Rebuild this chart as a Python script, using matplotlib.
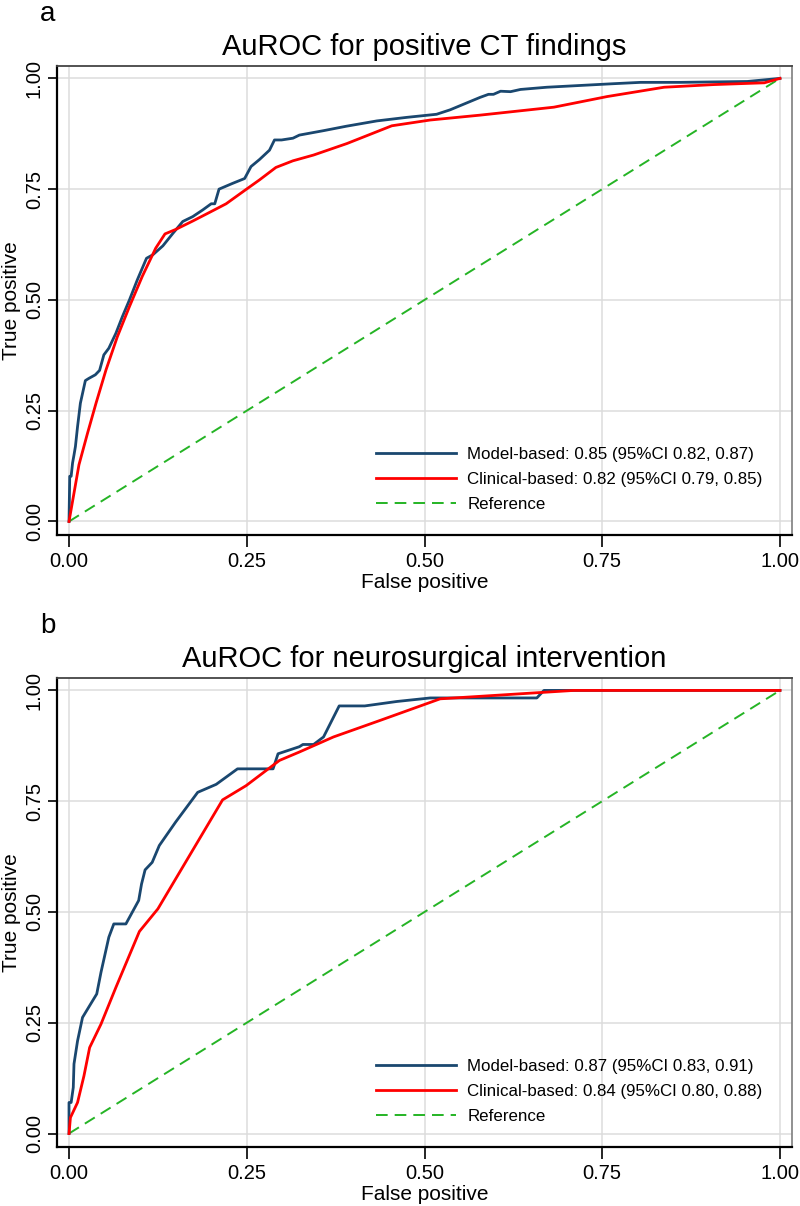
import matplotlib
matplotlib.use('Agg')
import matplotlib.pyplot as plt

plt.rcParams['font.family'] = ['Liberation Sans', 'DejaVu Sans']

# panel a: positive CT findings
fpr_model_a = [0, 0.001, 0.003, 0.005, 0.007, 0.009, 0.012, 0.016, 0.023, 0.028,
               0.037, 0.043, 0.049, 0.056, 0.066, 0.075, 0.085, 0.096, 0.109, 0.118,
               0.132, 0.146, 0.160, 0.174, 0.188, 0.200, 0.205, 0.211, 0.230, 0.247,
               0.256, 0.268, 0.282, 0.289, 0.299, 0.315, 0.324, 0.358, 0.390, 0.433,
               0.475, 0.517, 0.536, 0.560, 0.578, 0.590, 0.597, 0.607, 0.621, 0.635,
               0.672, 0.719, 0.766, 0.804, 0.860, 0.907, 0.954, 1.0]
tpr_model_a = [0, 0.102, 0.102, 0.132, 0.150, 0.169, 0.214, 0.267, 0.318, 0.323,
               0.331, 0.341, 0.376, 0.391, 0.425, 0.462, 0.500, 0.545, 0.594, 0.602,
               0.622, 0.650, 0.677, 0.688, 0.703, 0.717, 0.717, 0.750, 0.763, 0.774,
               0.801, 0.817, 0.838, 0.861, 0.861, 0.865, 0.872, 0.882, 0.892, 0.904,
               0.912, 0.919, 0.929, 0.945, 0.957, 0.964, 0.964, 0.971, 0.970, 0.975,
               0.980, 0.984, 0.988, 0.991, 0.991, 0.992, 0.993, 1.0]
fpr_clin_a = [0, 0.007, 0.014, 0.026, 0.038, 0.052, 0.068, 0.085, 0.103, 0.122,
              0.135, 0.150, 0.174, 0.197, 0.221, 0.247, 0.268, 0.291, 0.315, 0.344,
              0.391, 0.454, 0.508, 0.578, 0.682, 0.757, 0.837, 0.907, 0.978, 1.0]
tpr_clin_a = [0, 0.064, 0.128, 0.199, 0.267, 0.342, 0.417, 0.485, 0.553, 0.617,
              0.649, 0.659, 0.678, 0.697, 0.717, 0.747, 0.771, 0.799, 0.814, 0.827,
              0.853, 0.893, 0.906, 0.917, 0.935, 0.959, 0.980, 0.986, 0.990, 1.0]

# panel b: neurosurgical intervention
fpr_model_b = [0, 0, 0.003, 0.006, 0.007, 0.012, 0.019, 0.039, 0.045, 0.056,
               0.063, 0.080, 0.098, 0.102, 0.107, 0.117, 0.127, 0.150, 0.181, 0.207,
               0.237, 0.287, 0.294, 0.324, 0.329, 0.344, 0.358, 0.380, 0.416, 0.461,
               0.508, 0.658, 0.668, 1.0]
tpr_model_b = [0, 0.070, 0.070, 0.104, 0.157, 0.209, 0.262, 0.315, 0.364, 0.443,
               0.473, 0.473, 0.526, 0.563, 0.595, 0.612, 0.650, 0.703, 0.770, 0.788,
               0.823, 0.823, 0.857, 0.873, 0.878, 0.878, 0.895, 0.965, 0.965, 0.975,
               0.983, 0.983, 1.0, 1.0]
fpr_clin_b = [0, 0.002, 0.012, 0.021, 0.029, 0.045, 0.066, 0.099, 0.125, 0.216,
              0.249, 0.296, 0.324, 0.372, 0.437, 0.522, 0.710, 1.0]
tpr_clin_b = [0, 0.036, 0.070, 0.130, 0.194, 0.247, 0.330, 0.456, 0.507, 0.753,
              0.785, 0.842, 0.861, 0.895, 0.932, 0.981, 1.0, 1.0]

titles = ['AuROC for positive CT findings', 'AuROC for neurosurgical intervention']
panel_tags = ['a', 'b']
model_labels = ['Model-based: 0.85 (95%CI 0.82, 0.87)', 'Model-based: 0.87 (95%CI 0.83, 0.91)']
clin_labels = ['Clinical-based: 0.82 (95%CI 0.79, 0.85)', 'Clinical-based: 0.84 (95%CI 0.80, 0.88)']
ticks = [0, 0.25, 0.5, 0.75, 1.0]
tick_labels = ['0.00', '0.25', '0.50', '0.75', '1.00']

curves = [(fpr_model_a, tpr_model_a, fpr_clin_a, tpr_clin_a),
          (fpr_model_b, tpr_model_b, fpr_clin_b, tpr_clin_b)]

fig = plt.figure(figsize=(8, 12.06), dpi=100)
axes_pos = [[0.07125, 0.5564, 0.91875, 0.3889],
            [0.07125, 0.0489, 0.91875, 0.3889]]
tag_y = [0.999, 0.4915]

for i in range(2):
    ax = fig.add_axes(axes_pos[i])
    fm, tm, fc, tc = curves[i]
    ax.plot(fm, tm, color='#1a476f', lw=2.0, label=model_labels[i], zorder=4)
    ax.plot(fc, tc, color='#ff0000', lw=2.0, label=clin_labels[i], zorder=5)
    ax.plot([0, 1], [0, 1], color='#25b425', lw=1.4, ls=(0, (6, 3.6)),
            label='Reference', zorder=3)

    ax.set_xlim(-0.0169, 1.0169)
    ax.set_ylim(-0.0305, 1.028)
    ax.set_xticks(ticks)
    ax.set_xticklabels(tick_labels)
    ax.set_yticks(ticks)
    ax.set_yticklabels(tick_labels, rotation=90, va='center')
    ax.grid(True, color='#dcdcdc', lw=1.1, zorder=0)
    ax.set_axisbelow(True)
    ax.tick_params(axis='x', length=8.5, width=1.2, pad=3.5, labelsize=14.5)
    ax.tick_params(axis='y', length=6.5, width=1.2, pad=3, labelsize=14.5)

    for side in ['left', 'bottom']:
        ax.spines[side].set_color('black')
        ax.spines[side].set_linewidth(1.6)
    ax.spines['top'].set_color('#444444')
    ax.spines['top'].set_linewidth(1.3)
    ax.spines['right'].set_color('#888888')
    ax.spines['right'].set_linewidth(1.3)

    ax.set_xlabel('False positive', fontsize=15, labelpad=2)
    ax.set_ylabel('True positive', fontsize=15, labelpad=3)
    ax.set_title(titles[i], fontsize=21, pad=8)

    ax.legend(loc='center left', bbox_to_anchor=(0.434, 0.119), frameon=False,
              fontsize=12.2, handlelength=4.7, handletextpad=0.7,
              labelspacing=0.6, borderpad=0, borderaxespad=0)

    fig.text(0.05, tag_y[i], panel_tags[i], fontsize=20, va='top')

fig.savefig('out.png', dpi=100)
